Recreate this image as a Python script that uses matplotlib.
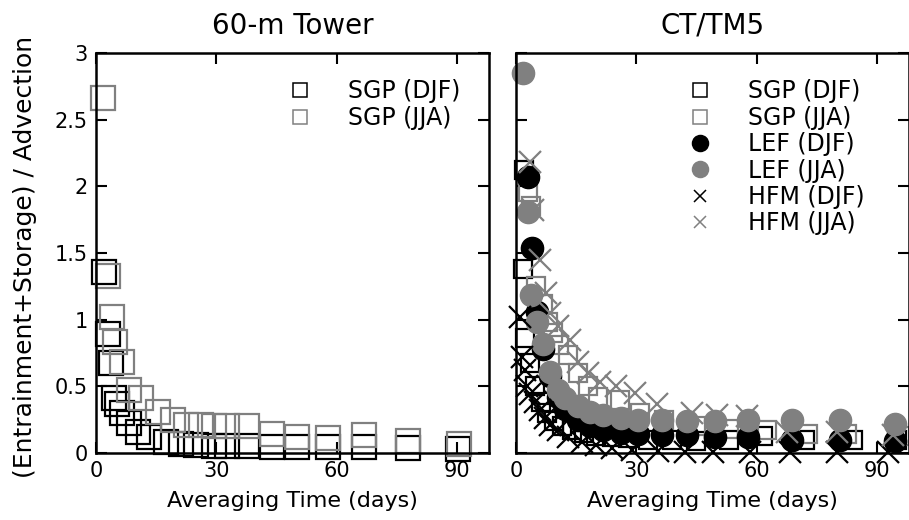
import numpy as np
import matplotlib
matplotlib.use("Agg")
from matplotlib import pyplot as plt
from matplotlib.ticker import FuncFormatter

GRAY = "#808080"

# ---- 60-m Tower (SGP) ----
tow_djf_x = [2.1, 3.1, 3.7, 4.5, 5.3, 6.6, 8.3, 10.4, 13.3, 17.5, 21.2, 24.9, 29.5,
             32.6, 37.6, 43.8, 50.2, 57.9, 66.8, 77.9, 90.4]
tow_djf_y = [1.36, 0.89, 0.675, 0.41, 0.37, 0.30, 0.225, 0.16, 0.12, 0.085, 0.07, 0.06, 0.05,
             0.05, 0.05, 0.045, 0.045, 0.047, 0.045, 0.037, 0.03]
tow_jja_x = [1.8, 3.0, 4.0, 4.8, 6.5, 8.3, 11.2, 15.4, 19.1, 22.4, 26.2, 29.5,
             32.6, 37.6, 43.8, 50.2, 57.9, 66.8, 77.9, 90.6]
tow_jja_y = [2.66, 1.33, 1.02, 0.835, 0.68, 0.47, 0.41, 0.31, 0.25, 0.21, 0.21, 0.20,
             0.20, 0.205, 0.14, 0.12, 0.115, 0.135, 0.09, 0.07]

# ---- CT/TM5 ----
sgp_djf_x = [2.0, 1.8, 2.2, 3.5, 4.8, 6.2, 7.8, 9.5, 11.5, 14, 17, 20, 24, 28, 33,
             39, 45, 53, 61.5, 72, 84, 95]
sgp_djf_y = [2.12, 1.38, 0.86, 0.675, 0.50, 0.38, 0.30, 0.24, 0.20, 0.17, 0.15, 0.13,
             0.12, 0.11, 0.10, 0.10, 0.09, 0.10, 0.13, 0.10, 0.10, 0.10]
sgp_jja_x = [2.9, 3.7, 4.9, 6.7, 8.0, 9.3, 10.7, 13, 15.5, 18, 20.4, 26, 31, 37, 45,
             53, 62.5, 72.8, 82.5, 95.8]
sgp_jja_y = [1.96, 1.85, 1.25, 1.12, 0.98, 0.90, 0.81, 0.735, 0.60, 0.50, 0.42, 0.40,
             0.30, 0.25, 0.20, 0.18, 0.17, 0.14, 0.14, 0.13]
lef_djf_x = [3.1, 3.9, 5.2, 6.8, 8.5, 10.5, 12.2, 15.5, 18.5, 21.8, 26.3, 30.5, 36.3,
             42.6, 49.6, 57.9, 68.7, 80.8, 94.5]
lef_djf_y = [2.07, 1.535, 1.06, 0.78, 0.58, 0.42, 0.33, 0.25, 0.20, 0.17, 0.15, 0.14,
             0.135, 0.135, 0.12, 0.12, 0.10, 0.10, 0.09]
lef_jja_x = [1.8, 3.1, 3.7, 5.2, 6.8, 8.5, 10.5, 12.2, 15.5, 18.5, 21.8, 26.3, 30.5,
             36.3, 42.6, 49.6, 57.9, 68.7, 80.8, 94.5]
lef_jja_y = [2.85, 1.81, 1.185, 0.985, 0.82, 0.61, 0.47, 0.41, 0.35, 0.31, 0.285, 0.26,
             0.25, 0.25, 0.24, 0.24, 0.25, 0.25, 0.25, 0.215]
hfm_djf_x = [1.0, 1.4, 2.2, 2.7, 3.5, 4.7, 6.0, 7.2, 8.5, 10.5, 13, 16.4, 20, 23.9,
             28.9, 35.5, 42.1, 49.1, 58.4, 68.3, 80, 92.8]
hfm_djf_y = [1.02, 0.72, 0.62, 0.50, 0.44, 0.38, 0.32, 0.26, 0.21, 0.17, 0.12, 0.085,
             0.06, 0.035, 0.025, 0.015, 0.01, 0.01, 0.01, 0.01, 0.01, 0.01]
hfm_jja_x = [3.5, 4.3, 6.0, 7.5, 8.5, 10.5, 13.5, 15.5, 18, 21, 25, 29.7, 35.1, 43.8,
             50, 57.5, 67.5, 80, 94]
hfm_jja_y = [2.185, 1.82, 1.45, 1.2, 1.05, 0.95, 0.85, 0.685, 0.6, 0.535, 0.5, 0.45,
             0.37, 0.3, 0.285, 0.28, 0.16, 0.16, 0.135]

plt.rcParams['font.family'] = ['DejaVu Sans']

fig = plt.figure(figsize=(9.09, 5.2), dpi=100)
ax1 = fig.add_axes([0.1056, 0.129, 0.4323, 0.769])
ax2 = fig.add_axes([0.5677, 0.129, 0.4323, 0.769])

mew = 1.6
ax1.plot(tow_djf_x, tow_djf_y, ls='none', marker='s', ms=17.5, mfc='none', mec='black',
         mew=mew, clip_on=False, label='SGP (DJF)')
ax1.plot(tow_jja_x, tow_jja_y, ls='none', marker='s', ms=17.5, mfc='none', mec=GRAY,
         mew=mew, clip_on=False, label='SGP (JJA)')

ax2.plot(sgp_djf_x, sgp_djf_y, ls='none', marker='s', ms=13.5, mfc='none', mec='black',
         mew=mew, clip_on=False, label='SGP (DJF)')
ax2.plot(sgp_jja_x, sgp_jja_y, ls='none', marker='s', ms=13.5, mfc='none', mec=GRAY,
         mew=mew, clip_on=False, label='SGP (JJA)')
ax2.plot(lef_djf_x, lef_djf_y, ls='none', marker='o', ms=16, mfc='black', mec='black',
         clip_on=False, label='LEF (DJF)')
ax2.plot(lef_jja_x, lef_jja_y, ls='none', marker='o', ms=16, mfc=GRAY, mec=GRAY,
         clip_on=False, label='LEF (JJA)')
ax2.plot(hfm_djf_x, hfm_djf_y, ls='none', marker='x', ms=15.5, mec='black',
         mew=mew, clip_on=False, label='HFM (DJF)')
ax2.plot(hfm_jja_x, hfm_jja_y, ls='none', marker='x', ms=15.5, mec=GRAY,
         mew=mew, clip_on=False, label='HFM (JJA)')

# legend marker sizes (pt) as drawn in the key
key_ms = {'s': 10.5, 'o': 11.5, 'x': 8.5}

fmt = FuncFormatter(lambda v, p: ('%g' % v))
for ax, lx in ((ax1, 0.489), (ax2, 0.438)):
    ax.set_xlim(0, 98)
    ax.set_ylim(0, 3)
    ax.set_xticks([0, 30, 60, 90])
    ax.set_yticks(np.arange(0, 3.01, 0.5))
    ax.yaxis.set_major_formatter(fmt)
    ax.tick_params(direction='in', length=8, width=1.5, top=True, right=True,
                   labelsize=15, pad=6)
    for s in ax.spines.values():
        s.set_linewidth(1.8)
    ax.set_xlabel('Averaging Time (days)', fontsize=16, labelpad=7)
    leg = ax.legend(loc='upper left', bbox_to_anchor=(lx, 0.934), frameon=False,
                    borderpad=0, borderaxespad=0, handlelength=1.0,
                    handletextpad=1.55, labelspacing=0.1, fontsize=17)
    for h in leg.legend_handles:
        h.set_markersize(key_ms[h.get_marker()])
        h.set_markeredgewidth(1.1)

ax2.tick_params(labelleft=False)
ax1.set_ylabel('(Entrainment+Storage) / Advection', fontsize=18)
ax1.yaxis.set_label_coords(-0.15, 0.49)
ax1.set_title('60-m Tower', fontsize=20, pad=14)
ax2.set_title('CT/TM5', fontsize=20, pad=14)

fig.savefig('out.png', dpi=100)
